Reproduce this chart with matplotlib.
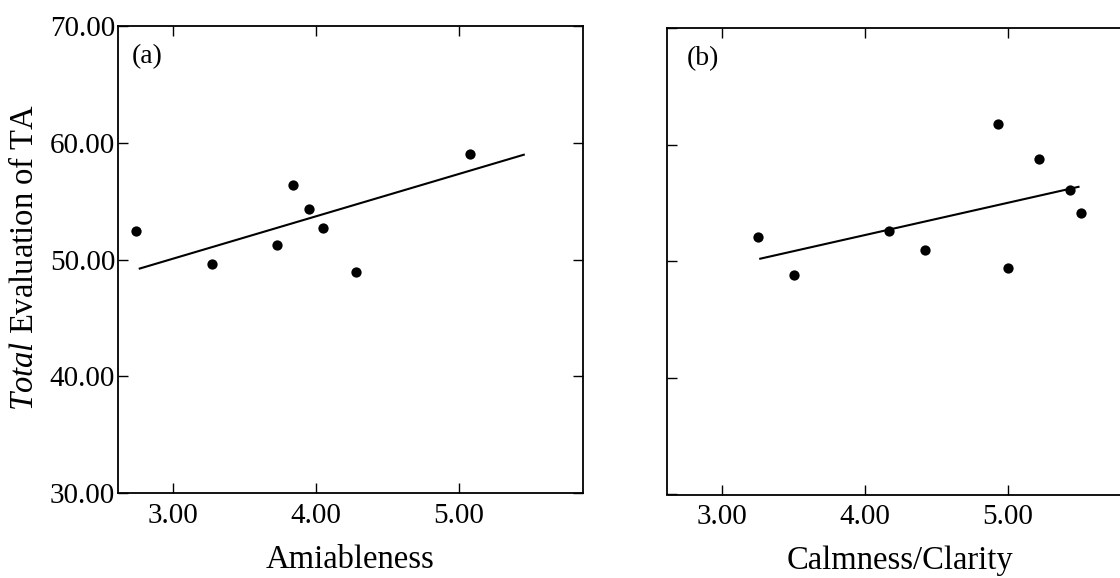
import matplotlib
matplotlib.use("Agg")
import matplotlib.pyplot as plt
from matplotlib.ticker import FormatStrFormatter

plt.rcParams['font.family'] = ['Liberation Serif', 'DejaVu Serif']
plt.rcParams['mathtext.fontset'] = 'custom'
plt.rcParams['mathtext.it'] = 'Liberation Serif:italic'
plt.rcParams['mathtext.rm'] = 'Liberation Serif'

# Panel (a): Amiableness vs total evaluation
amiable_x = [2.74, 3.27, 3.73, 3.84, 3.95, 4.05, 4.28, 5.08]
amiable_y = [52.4, 49.6, 51.2, 56.4, 54.3, 52.7, 48.9, 59.0]
amiable_fit_x = [2.76, 5.46]
amiable_fit_y = [49.2, 59.0]

# Panel (b): Calmness/Clarity vs total evaluation
calm_x = [3.25, 3.50, 4.17, 4.42, 4.93, 5.00, 5.22, 5.43, 5.51]
calm_y = [52.1, 48.8, 52.6, 51.0, 61.8, 49.4, 58.8, 56.1, 54.1]
calm_fit_x = [3.26, 5.50]
calm_fit_y = [50.2, 56.4]

x_ticks = [3.0, 4.0, 5.0]
y_ticks = [30.0, 40.0, 50.0, 60.0, 70.0]

W, H = 1120, 578
fig = plt.figure(figsize=(W / 100, H / 100), dpi=100)

ax1 = fig.add_axes([118 / W, 1 - 493 / H, 465 / W, 467 / H])
ax2 = fig.add_axes([667 / W, 1 - 494.5 / H, 465 / W, 466.5 / H])

panels = [
    (ax1, amiable_x, amiable_y, amiable_fit_x, amiable_fit_y, 'Amiableness', '(a)', 0.030),
    (ax2, calm_x, calm_y, calm_fit_x, calm_fit_y, 'Calmness/Clarity', '(b)', 0.043),
]

for ax, xs, ys, fx, fy, xlabel, tag, tagx in panels:
    ax.plot(fx, fy, color='black', lw=1.5, solid_capstyle='butt')
    ax.plot(xs, ys, 'o', color='black', markersize=7.4, markeredgewidth=0)
    ax.set_xlim(2.615, 5.867)
    ax.set_ylim(30, 70)
    ax.set_xticks(x_ticks)
    ax.set_yticks(y_ticks)
    ax.xaxis.set_major_formatter(FormatStrFormatter('%.2f'))
    ax.yaxis.set_major_formatter(FormatStrFormatter('%.2f'))
    ax.tick_params(axis='both', direction='in', length=7, width=1.0,
                   top=True, right=True, labelsize=21)
    ax.tick_params(axis='x', pad=7)
    ax.tick_params(axis='y', pad=2)
    for sp in ax.spines.values():
        sp.set_linewidth(1.3)
    ax.set_xlabel(xlabel, fontsize=23.5, labelpad=11)
    ax.text(tagx, 0.962, tag, transform=ax.transAxes, fontsize=20,
            ha='left', va='top')

ax2.tick_params(axis='y', labelleft=False)

fig.text(25 / W, 1 - 257 / H, r'$\it{Total}$ Evaluation of TA', fontsize=23.5,
         rotation=90, ha='center', va='center')

fig.savefig('out.png', dpi=100)
